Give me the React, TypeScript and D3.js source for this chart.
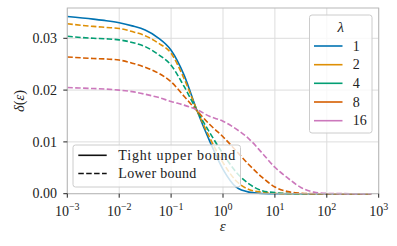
import React from "react";
import * as d3 from "d3";

const EPS = [0.001, 0.00316, 0.00562, 0.01, 0.0178, 0.0316, 0.0562, 0.1, 0.178, 0.316, 0.562, 1, 1.78, 3.16, 5.62, 10, 17.8, 31.6, 56.2, 100, 316, 725];
const LAMBDAS = ["1", "2", "4", "8", "16"];
const DELTA_L1 = [0.0342, 0.0337, 0.0334, 0.033, 0.0324, 0.0316, 0.0301, 0.0277, 0.0229, 0.016, 0.01, 0.0047, 0.0013, 0.0003, 0.00005, 0, 0, 0, 0, 0, 0, 0];
const DELTA_L2 = [0.0328, 0.0323, 0.0321, 0.0319, 0.0313, 0.0305, 0.0291, 0.0271, 0.0222, 0.0161, 0.0107, 0.006, 0.0025, 0.0008, 0.0003, 0.0001, 0, 0, 0, 0, 0, 0];
const DELTA_L4 = [0.0304, 0.03, 0.0299, 0.0297, 0.0292, 0.0284, 0.0269, 0.0248, 0.0207, 0.016, 0.0117, 0.0077, 0.0042, 0.0019, 0.0006, 0.0002, 0.00005, 0, 0, 0, 0, 0];
const DELTA_L8 = [0.0264, 0.0261, 0.026, 0.0258, 0.0252, 0.0244, 0.0233, 0.0216, 0.0188, 0.016, 0.0133, 0.011, 0.0083, 0.0056, 0.0032, 0.0013, 0.0004, 0.0001, 0, 0, 0, 0];
const DELTA_L16 = [0.0205, 0.0203, 0.0202, 0.02, 0.0197, 0.0192, 0.0186, 0.0178, 0.0171, 0.0162, 0.0149, 0.014, 0.0125, 0.0106, 0.0079, 0.0051, 0.003, 0.0012, 0.0003, 0.00005, 0, 0];
const SERIES = [DELTA_L1, DELTA_L2, DELTA_L4, DELTA_L8, DELTA_L16];
const COLORS = ["#0173b2", "#de8f05", "#029e73", "#d55e00", "#cc78bc"];
const X_TICKS = [-3, -2, -1, 0, 1, 2, 3];
const Y_TICKS = [0, 0.01, 0.02, 0.03];

const W = 397, H = 246;
const M = { left: 67.3, right: 378.7, top: 8, bottom: 193.7 };
const FONT = "'Liberation Serif', 'Times New Roman', serif";

export default function App() {
  const x = d3.scaleLog().domain([1e-3, 1e3]).range([M.left, M.right]);
  const y = d3.scaleLinear().domain([0, 0.03585]).range([M.bottom, M.top]);
  const line = d3
    .line<number>()
    .x((_, i) => x(EPS[i]))
    .y((d) => y(d))
    .curve(d3.curveMonotoneX);

  const legX = 309.5, legY = 15, legW = 62.5, legH = 118;
  const rows = [46, 64.7, 83.3, 102, 120.7];
  const l2 = { x: 73, y: 145, w: 167.5, h: 42 };

  return (
    <svg width={W} height={H} style={{ position: "absolute", left: 0, top: 0, background: "#fff" }} fontFamily={FONT}>
      <defs>
        <clipPath id="clip">
          <rect x={M.left} y={M.top - 2} width={M.right - M.left} height={M.bottom - M.top + 4} />
        </clipPath>
      </defs>
      {/* grid */}
      {X_TICKS.map((t) => (
        <line key={"gx" + t} x1={x(10 ** t)} x2={x(10 ** t)} y1={M.top} y2={M.bottom} stroke="#dddddd" strokeWidth={1} />
      ))}
      {Y_TICKS.map((t) => (
        <line key={"gy" + t} x1={M.left} x2={M.right} y1={y(t)} y2={y(t)} stroke="#dddddd" strokeWidth={1} />
      ))}
      {/* curves */}
      <g clipPath="url(#clip)">
        {SERIES.map((s, i) => (
          <path
            key={"s" + i}
            d={line(s) || ""}
            fill="none"
            stroke={COLORS[i]}
            strokeWidth={1.6}
            strokeDasharray={i === 0 ? undefined : "5.5,2.4"}
          />
        ))}
      </g>
      {/* spines */}
      <rect x={M.left} y={M.top} width={M.right - M.left} height={M.bottom - M.top} fill="none" stroke="#b8b8b8" strokeWidth={1} />
      {/* ticks */}
      {X_TICKS.map((t) => (
        <g key={"tx" + t}>
          <line x1={x(10 ** t)} x2={x(10 ** t)} y1={M.bottom} y2={M.bottom + 4} stroke="#222" strokeWidth={1} />
          <text x={x(10 ** t)} y={216.3} fontSize={14} textAnchor="middle" fill="#222">
            10<tspan dy={-6} fontSize={10}>{t < 0 ? "\u2212" + Math.abs(t) : String(t)}</tspan>
          </text>
        </g>
      ))}
      {Y_TICKS.map((t) => (
        <g key={"ty" + t}>
          <line x1={M.left - 4} x2={M.left} y1={y(t)} y2={y(t)} stroke="#222" strokeWidth={1} />
          <text x={57} y={y(t) + 4.6} fontSize={14} textAnchor="end" fill="#222">
            {d3.format(".2f")(t)}
          </text>
        </g>
      ))}
      {/* axis labels */}
      <text x={222.7} y={231} fontSize={15} fontStyle="italic" textAnchor="middle" fill="#222">ε</text>
      <text transform={`translate(23.5,101) rotate(-90)`} fontSize={14.5} textAnchor="middle" fill="#222">
        <tspan fontStyle="italic">δ</tspan>(<tspan fontStyle="italic">ε</tspan>)
      </text>
      {/* lambda legend */}
      <rect x={legX} y={legY} width={legW} height={legH} rx={2.5} fill="#fff" fillOpacity={0.8} stroke="#cccccc" strokeWidth={1} />
      <text x={340.7} y={31.5} fontSize={15} fontStyle="italic" textAnchor="middle" fill="#222">λ</text>
      {LAMBDAS.map((l, i) => (
        <g key={"lg" + l}>
          <line x1={314} x2={342.5} y1={rows[i]} y2={rows[i]} stroke={COLORS[i]} strokeWidth={1.6} />
          <text x={352.7} y={rows[i] + 4.6} fontSize={14} fill="#222">{l}</text>
        </g>
      ))}
      {/* style legend */}
      <rect x={l2.x} y={l2.y} width={l2.w} height={l2.h} rx={2.5} fill="#fff" fillOpacity={0.8} stroke="#cccccc" strokeWidth={1} />
      <line x1={78.3} x2={106.7} y1={155.3} y2={155.3} stroke="#111" strokeWidth={1.6} />
      <line x1={78.3} x2={106.7} y1={173.5} y2={173.5} stroke="#111" strokeWidth={1.6} strokeDasharray="5.5,2.4" />
      <text x={118.3} y={159.8} fontSize={14} fill="#222" textLength={117} lengthAdjust="spacing">Tight upper bound</text>
      <text x={118.3} y={178} fontSize={14} fill="#222" textLength={78} lengthAdjust="spacing">Lower bound</text>
    </svg>
  );
}
